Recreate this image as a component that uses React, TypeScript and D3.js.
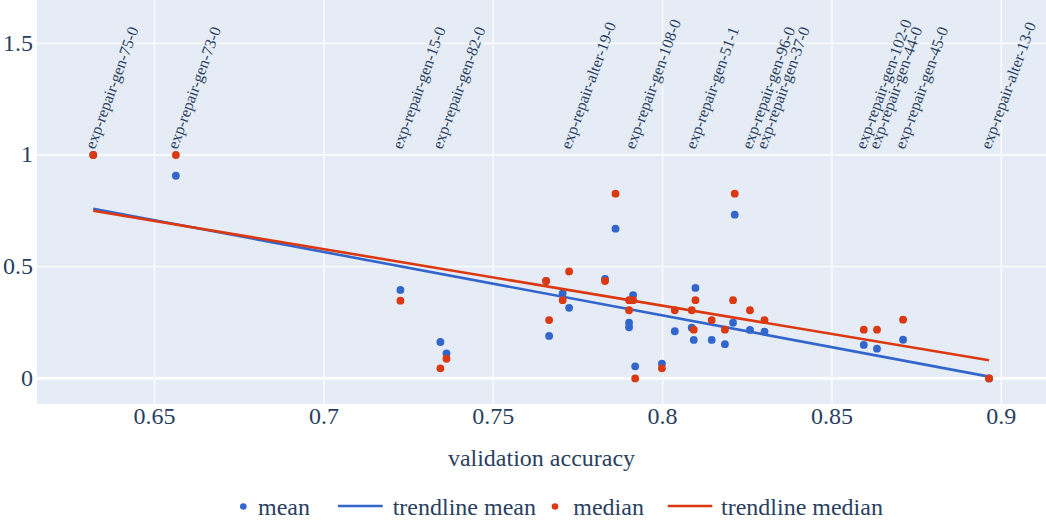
import React from "react";
import * as d3 from "d3";

// ---- data ----
const accuracy = [
  0.6319, 0.6563, 0.7226, 0.7344, 0.7362, 0.7656, 0.7665, 0.7705, 0.7724, 0.783,
  0.7861, 0.7901, 0.7901, 0.7913, 0.7919, 0.7998, 0.8036, 0.8086, 0.8092, 0.8097,
  0.8145, 0.8184, 0.8208, 0.8213, 0.8258, 0.8301, 0.8594, 0.8633, 0.871, 0.8964,
];
const meanValues = [
  1.0, 0.907, 0.396, 0.163, 0.112, 0.436, 0.19, 0.381, 0.316, 0.445,
  0.67, 0.249, 0.229, 0.373, 0.054, 0.066, 0.211, 0.227, 0.172, 0.405,
  0.172, 0.153, 0.249, 0.733, 0.217, 0.209, 0.15, 0.133, 0.173, 0.0,
];
const medianValues = [
  1.0, 1.0, 0.348, 0.045, 0.088, 0.436, 0.261, 0.35, 0.479, 0.436,
  0.827, 0.35, 0.305, 0.35, 0.0, 0.045, 0.305, 0.305, 0.218, 0.35,
  0.261, 0.218, 0.35, 0.827, 0.305, 0.261, 0.218, 0.218, 0.263, 0.0,
];
const labelNames = [
  "exp-repair-gen-75-0", "exp-repair-gen-73-0", "exp-repair-gen-15-0", "exp-repair-gen-82-0",
  "exp-repair-alter-19-0", "exp-repair-gen-108-0", "exp-repair-gen-51-1", "exp-repair-gen-96-0",
  "exp-repair-gen-37-0", "exp-repair-gen-102-0", "exp-repair-gen-44-0", "exp-repair-gen-45-0",
  "exp-repair-alter-13-0",
];
const labelX = [
  0.6319, 0.6563, 0.7226, 0.7344, 0.7724, 0.7913, 0.8092, 0.8258, 0.8301, 0.8594, 0.8633, 0.871, 0.8964,
];
const labelLevel = 1;
const xTicks = [0.65, 0.7, 0.75, 0.8, 0.85, 0.9];
const yTicks = [0, 0.5, 1, 1.5];
const xDomain = [0.6153, 0.9132];
const yDomain = [-0.1146, 1.6938];

const BLUE = "#3366CC";
const RED = "#DC3912";
const TEXT = "#2a3f5f";
const FONT = "Liberation Serif";

function ols(xs: number[], ys: number[]) {
  const mx = d3.mean(xs) as number;
  const my = d3.mean(ys) as number;
  let sxy = 0, sxx = 0;
  xs.forEach((x, i) => {
    sxy += (x - mx) * (ys[i] - my);
    sxx += (x - mx) * (x - mx);
  });
  const b = sxy / sxx;
  const a = my - b * mx;
  const [x0, x1] = d3.extent(xs) as [number, number];
  return [[x0, a + b * x0], [x1, a + b * x1]] as [number, number][];
}

export default function App() {
  const W = 1046, H = 521;
  const left = 37, right = 1046, top = 0, bottom = 404;
  const x = d3.scaleLinear().domain(xDomain).range([left, right]);
  const y = d3.scaleLinear().domain(yDomain).range([bottom, top]);
  const line = d3.line<[number, number]>().x((d) => x(d[0])).y((d) => y(d[1]));
  const trendMean = ols(accuracy, meanValues);
  const trendMedian = ols(accuracy, medianValues);
  const fs = 24;
  const ts = { fontFamily: FONT };

  return (
    <div style={{ position: "absolute", left: 0, top: 0, width: W, height: H, fontFamily: FONT }}>
      <svg width={W} height={H} style={{ display: "block", background: "#fff", fontFamily: FONT }}>
        <rect x={left} y={top} width={right - left} height={bottom - top} fill="#E5ECF6" />
        {xTicks.map((t) => (
          <line key={"gx" + t} x1={x(t)} x2={x(t)} y1={top} y2={bottom} stroke="#fff" strokeWidth={1.3} />
        ))}
        {yTicks.map((t) => (
          <line key={"gy" + t} x1={left} x2={right} y1={y(t)} y2={y(t)} stroke="#fff" strokeWidth={t === 0 ? 2.6 : 1.3} />
        ))}
        {xTicks.map((t) => (
          <text key={"tx" + t} x={x(t)} y={424} textAnchor="middle" fontSize={fs} fill={TEXT} style={ts}>
            {d3.format("")(t)}
          </text>
        ))}
        {yTicks.map((t) => (
          <text key={"ty" + t} x={33} y={y(t) + 7.5} textAnchor="end" fontSize={fs} fill={TEXT} style={ts}>
            {d3.format("")(t)}
          </text>
        ))}
        <text x={(left + right) / 2} y={466} textAnchor="middle" fontSize={fs} fill={TEXT} style={ts}>
          validation accuracy
        </text>

        <g>
          {accuracy.map((a, i) => (
            <circle key={"m" + i} cx={x(a)} cy={y(meanValues[i])} r={3.9} fill={BLUE} />
          ))}
        </g>
        <path d={line(trendMean) || ""} fill="none" stroke={BLUE} strokeWidth={2.6} />
        <g>
          {accuracy.map((a, i) => (
            <circle key={"d" + i} cx={x(a)} cy={y(medianValues[i])} r={3.9} fill={RED} />
          ))}
        </g>
        <path d={line(trendMedian) || ""} fill="none" stroke={RED} strokeWidth={2.6} />

        {labelNames.map((n, i) => (
          <text
            key={n}
            transform={`translate(${x(labelX[i]) + 1.5},${y(labelLevel) - 5}) rotate(-70)`}
            fontSize={16}
            fill={TEXT}
            style={ts}
          >
            {n}
          </text>
        ))}

        <g>
          <circle cx={243.3} cy={506.5} r={3.3} fill={BLUE} />
          <text x={258} y={515} fontSize={fs} fill={TEXT} style={ts}>mean</text>
          <line x1={338} x2={382.7} y1={506} y2={506} stroke={BLUE} strokeWidth={2.6} />
          <text x={392.7} y={515} fontSize={fs} fill={TEXT} style={ts}>trendline mean</text>
          <circle cx={555} cy={506.5} r={3.3} fill={RED} />
          <text x={573.3} y={515} fontSize={fs} fill={TEXT} style={ts}>median</text>
          <line x1={667.7} x2={712.3} y1={506} y2={506} stroke={RED} strokeWidth={2.6} />
          <text x={721} y={515} fontSize={fs} fill={TEXT} style={ts}>trendline median</text>
        </g>
      </svg>
    </div>
  );
}
